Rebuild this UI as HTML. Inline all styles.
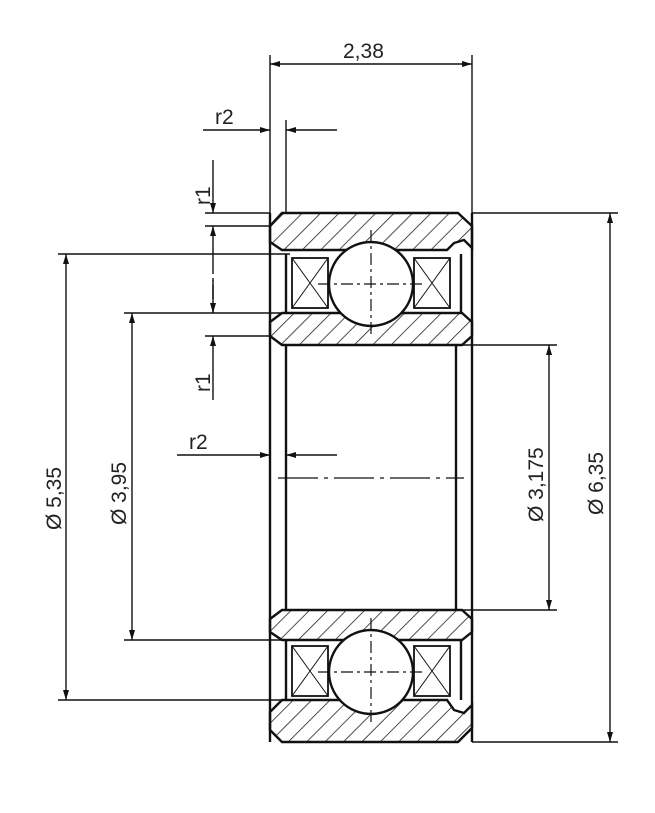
<!DOCTYPE html>
<html><head><meta charset="utf-8"><style>body{margin:0;background:#fff}svg{display:block}text{font-family:"Liberation Sans",sans-serif;fill:#222}</style></head><body>
<svg width="655" height="813" viewBox="0 0 655 813">
<defs>
<pattern id="h" patternUnits="userSpaceOnUse" width="13" height="13" patternTransform="rotate(45)"><line x1="0" y1="0" x2="0" y2="13" stroke="#222" stroke-width="1.6"/></pattern>
<marker id="a" viewBox="0 0 10 6" refX="10" refY="3" markerWidth="11" markerHeight="6" orient="auto-start-reverse" markerUnits="userSpaceOnUse"><path d="M0,0L10,3L0,6z" fill="#111"/></marker>
</defs>
<g stroke="#111" fill="none" stroke-width="1.4">
<line x1="270" y1="55" x2="270" y2="213"/><line x1="472" y1="55" x2="472" y2="213"/>
<line x1="286" y1="120" x2="286" y2="213"/>
<line x1="472" y1="213" x2="618" y2="213"/><line x1="472" y1="742" x2="618" y2="742"/>
<line x1="456" y1="345" x2="557" y2="345"/><line x1="456" y1="610" x2="557" y2="610"/>
<line x1="58" y1="254" x2="290" y2="254"/><line x1="58" y1="700" x2="290" y2="700"/>
<line x1="124" y1="313" x2="290" y2="313"/><line x1="124" y1="640" x2="290" y2="640"/>
<line x1="205" y1="213" x2="270" y2="213"/><line x1="205" y1="226" x2="270" y2="226"/>
<line x1="205" y1="336" x2="270" y2="336"/>
<line x1="270" y1="64" x2="472" y2="64" marker-start="url(#a)" marker-end="url(#a)"/>
<line x1="610" y1="213" x2="610" y2="742" marker-start="url(#a)" marker-end="url(#a)"/>
<line x1="549" y1="345" x2="549" y2="610" marker-start="url(#a)" marker-end="url(#a)"/>
<line x1="66" y1="254" x2="66" y2="700" marker-start="url(#a)" marker-end="url(#a)"/>
<line x1="132" y1="313" x2="132" y2="640" marker-start="url(#a)" marker-end="url(#a)"/>
<line x1="203" y1="130" x2="270" y2="130" marker-end="url(#a)"/><line x1="337" y1="130" x2="286" y2="130" marker-end="url(#a)"/>
<line x1="177" y1="455" x2="270" y2="455" marker-end="url(#a)"/><line x1="337" y1="455" x2="286" y2="455" marker-end="url(#a)"/>
<line x1="213" y1="160" x2="213" y2="213" marker-end="url(#a)"/><line x1="213" y1="260" x2="213" y2="226" marker-end="url(#a)"/>
<line x1="213" y1="260" x2="213" y2="313" stroke-dasharray="14 4 3 4"/>
<line x1="213" y1="280" x2="213" y2="313" marker-end="url(#a)"/><line x1="213" y1="400" x2="213" y2="336" marker-end="url(#a)"/>
</g>
<g stroke="#111" stroke-width="2.4">
<line x1="270" y1="213" x2="270" y2="742"/><line x1="472" y1="213" x2="472" y2="742"/>
<line x1="286" y1="345" x2="286" y2="610"/><line x1="456" y1="345" x2="456" y2="610"/>
<line x1="286" y1="254" x2="286" y2="313"/><line x1="286" y1="640" x2="286" y2="700"/>
<line x1="461" y1="254" x2="461" y2="313"/><line x1="461" y1="640" x2="461" y2="700"/>
<path d="M282,213H458L472,226V248L464,240L454,243L447,250H282L270,242V226Z" fill="url(#h)"/>
<path d="M282,313H462L472,322V336L462,345H282L270,336V322Z" fill="url(#h)"/>
<path d="M282,610H462L472,619V632L462,640H282L270,632V619Z" fill="url(#h)"/>
<path d="M282,700H447L454,710L464,713L472,705V728L458,742H282L270,730V712Z" fill="url(#h)"/>
<g fill="#fff" stroke-width="1.8">
<rect x="292" y="258" width="36" height="50"/><rect x="414" y="258" width="36" height="50"/>
<rect x="292" y="646" width="36" height="50"/><rect x="414" y="646" width="36" height="50"/>
</g>
<g stroke-width="1">
<path d="M292,258L328,308M328,258L292,308M414,258L450,308M450,258L414,308"/>
<path d="M292,646L328,696M328,646L292,696M414,646L450,696M450,646L414,696"/>
</g>
<circle cx="371" cy="284" r="42" fill="#fff"/>
<circle cx="371" cy="672" r="42" fill="#fff"/>
</g>
<g stroke="#111" stroke-width="1.2" stroke-dasharray="12 4 3 4">
<line x1="318" y1="284" x2="424" y2="284"/><line x1="371" y1="230" x2="371" y2="338"/>
<line x1="318" y1="672" x2="424" y2="672"/><line x1="371" y1="618" x2="371" y2="726"/>
<line x1="278" y1="478" x2="464" y2="478" stroke-dasharray="40 6 4 6"/>
</g>
<text x="343" y="58" font-size="21">2,38</text>
<text x="215" y="124" font-size="21">r2</text>
<text x="189" y="449" font-size="21">r2</text>
<text font-size="21" transform="translate(210,205) rotate(-90)">r1</text>
<text font-size="21" transform="translate(210,392) rotate(-90)">r1</text>
<text font-size="21" transform="translate(603,515) rotate(-90)">Ø 6,35</text>
<text font-size="21" transform="translate(543,522) rotate(-90)">Ø 3,175</text>
<text font-size="21" transform="translate(61,530) rotate(-90)">Ø 5,35</text>
<text font-size="21" transform="translate(126,525) rotate(-90)">Ø 3,95</text>
</svg>
</body></html>
